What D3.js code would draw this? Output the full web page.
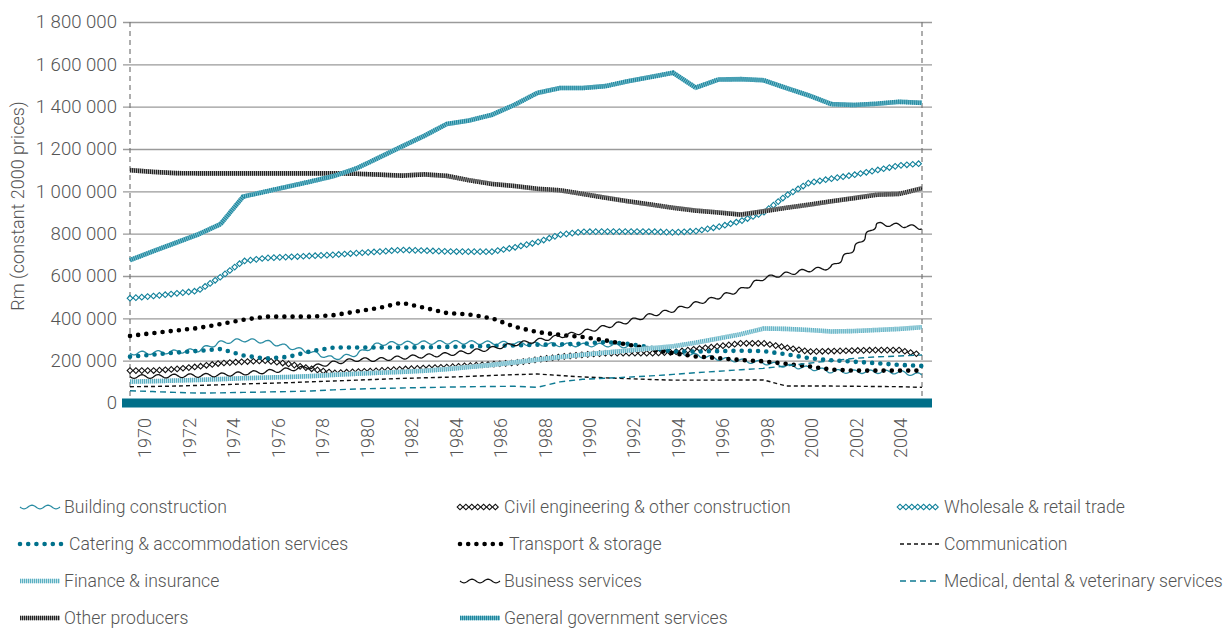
<!DOCTYPE html>
<html>
<head>
<meta charset="utf-8">
<script src="https://cdn.jsdelivr.net/npm/d3@7"></script>
<style>
  body { margin: 0; background: #fff; }
  text { font-family: Roboto, "Noto Sans", sans-serif; font-weight: 300; fill: #555; }
</style>
</head>
<body>
<div id="chart"></div>
<script>
// years on the x axis (values in thousands of Rm, constant 2000 prices)
var years = [1970, 1971, 1972, 1973, 1974, 1975, 1976, 1977, 1978, 1979,
  1980, 1981, 1982, 1983, 1984, 1985, 1986, 1987, 1988, 1989,
  1990, 1991, 1992, 1993, 1994, 1995, 1996, 1997, 1998, 1999,
  2000, 2001, 2002, 2003, 2004, 2005];
var tickYears = [1970, 1972, 1974, 1976, 1978, 1980, 1982, 1984, 1986, 1988,
  1990, 1992, 1994, 1996, 1998, 2000, 2002, 2004];
var yTicks = [0, 200, 400, 600, 800, 1000, 1200, 1400, 1600, 1800];

var building = [235, 238, 242, 250, 285, 298, 290, 265, 240, 210, 230, 280, 283, 285, 287, 286, 284, 282, 278, 275,
  274, 274, 268, 258, 240, 225, 210, 200, 190, 176, 165, 150, 148, 148, 145, 132];
var civil = [153, 153, 160, 172, 188, 195, 200, 185, 162, 142, 148, 153, 160, 165, 170, 177, 183, 190, 205, 218,
  228, 235, 235, 235, 240, 255, 268, 282, 282, 262, 243, 245, 248, 250, 250, 227];
var wholesale = [495, 505, 517, 530, 595, 670, 685, 690, 695, 700, 708, 715, 723, 720, 716, 715, 715, 735, 760, 795,
  809, 810, 810, 810, 806, 812, 832, 860, 900, 980, 1040, 1060, 1078, 1100, 1122, 1132];
var catering = [219, 228, 238, 246, 255, 225, 210, 218, 245, 262, 262, 262, 262, 263, 265, 267, 270, 272, 275, 277,
  280, 288, 280, 262, 243, 243, 245, 247, 245, 230, 212, 202, 195, 188, 180, 175];
var transport = [317, 330, 342, 354, 373, 393, 408, 408, 408, 415, 432, 449, 474, 450, 425, 418, 400, 360, 335, 322,
  312, 296, 276, 255, 235, 220, 212, 203, 197, 185, 173, 158, 153, 153, 153, 153];
var communication = [77, 78, 80, 83, 86, 90, 93, 96, 100, 104, 108, 112, 116, 119, 122, 126, 130, 134, 137, 130,
  123, 119, 115, 111, 108, 108, 108, 109, 109, 80, 80, 80, 79, 78, 77, 74];
var finance = [101, 103, 106, 109, 113, 117, 120, 123, 127, 133, 138, 143, 147, 152, 160, 170, 180, 192, 205, 217,
  228, 238, 248, 258, 268, 285, 305, 325, 352, 350, 345, 338, 340, 345, 350, 358];
var business = [125, 125, 128, 130, 133, 140, 148, 158, 170, 190, 205, 205, 215, 222, 230, 242, 258, 278, 295, 315,
  335, 360, 385, 415, 438, 470, 500, 535, 590, 610, 628, 640, 730, 845, 840, 828];
var medical = [58, 54, 50, 47, 48, 50, 52, 54, 57, 62, 66, 69, 71, 73, 75, 77, 78, 79, 74, 100,
  112, 117, 122, 128, 135, 143, 150, 157, 164, 175, 188, 200, 211, 218, 222, 227];
var otherProducers = [1100, 1092, 1086, 1085, 1085, 1085, 1085, 1085, 1085, 1085, 1083, 1079, 1074, 1080, 1073, 1052, 1035, 1025, 1012, 1005,
  988, 970, 953, 938, 922, 909, 900, 890, 906, 922, 937, 953, 968, 984, 988, 1014];
var government = [675, 716, 756, 796, 845, 975, 999, 1023, 1047, 1072, 1108, 1159, 1211, 1262, 1318, 1335, 1362, 1409, 1465, 1488,
  1488, 1497, 1520, 1540, 1560, 1490, 1528, 1530, 1525, 1488, 1453, 1412, 1408, 1414, 1423, 1418];

var series = [
  { name: "Building construction", values: building, style: "wave", color: "#2a8ca3" },
  { name: "Civil engineering & other construction", values: civil, style: "diamond", color: "#111" },
  { name: "Wholesale & retail trade", values: wholesale, style: "diamond", color: "#10809a" },
  { name: "Catering & accommodation services", values: catering, style: "dots", color: "#00718c" },
  { name: "Transport & storage", values: transport, style: "dots", color: "#000" },
  { name: "Communication", values: communication, style: "dash", color: "#111" },
  { name: "Finance & insurance", values: finance, style: "hatch", color: "#5aafc2", base: "#cfe8ee" },
  { name: "Business services", values: business, style: "wave", color: "#111" },
  { name: "Medical, dental & veterinary services", values: medical, style: "dash", color: "#0e7a93" },
  { name: "Other producers", values: otherProducers, style: "hatch", color: "#222", base: "#b0b0b0" },
  { name: "General government services", values: government, style: "hatch", color: "#1d859d", base: "#7cc0cf" }
];

var svgWidth = 1227;
var svgHeight = 630;

var svg = d3.select("#chart")
  .append("svg")
  .attr("width", svgWidth)
  .attr("height", svgHeight);

// scales
var x = d3.scaleLinear().domain([1970, 2005]).range([130, 922]);
var xLab = d3.scaleLinear().domain([1970, 2004]).range([145, 901]);
var y = d3.scaleLinear().domain([0, 1800]).range([403, 22]);

var fmt = function(d) { return d3.format(",")(d * 1000).replace(/,/g, " "); };

// y axis with gridlines
var yAxis = svg.append("g")
  .attr("transform", "translate(130,0)")
  .call(d3.axisLeft(y).tickValues(yTicks).tickFormat(fmt).tickSize(-802).tickSizeOuter(0).tickPadding(13));
yAxis.select(".domain").remove();
yAxis.selectAll(".tick line")
  .attr("x1", -7)
  .attr("stroke", "#9a9a9a")
  .attr("stroke-width", 1.3);
yAxis.selectAll(".tick text")
  .style("font-size", "18.6px")
  .style("font-family", "Roboto, sans-serif")
  .style("font-weight", 300)
  .attr("fill", "#555");

// dashed verticals at both ends
svg.selectAll(".edge")
  .data([1970, 2005])
  .enter()
  .append("line")
  .attr("x1", d => x(d))
  .attr("x2", d => x(d))
  .attr("y1", y(1800))
  .attr("y2", y(0))
  .attr("stroke", "#777")
  .attr("stroke-width", 1.2)
  .attr("stroke-dasharray", "5 4");

// y axis title
svg.append("text")
  .attr("transform", "translate(24,206) rotate(-90)")
  .attr("text-anchor", "middle")
  .style("font-size", "18px")
  .text("Rm (constant 2000 prices)");

var chartGroup = svg.append("g");

// line styles
function wavePath(node, amp, period) {
  var L = node.getTotalLength();
  var pts = [];
  for (var s = 0; s <= L; s += 1) {
    var p = node.getPointAtLength(s);
    var a = node.getPointAtLength(Math.max(0, s - 1.5));
    var b = node.getPointAtLength(Math.min(L, s + 1.5));
    var dx = b.x - a.x, dy = b.y - a.y;
    var len = Math.sqrt(dx * dx + dy * dy) || 1;
    var off = amp * Math.sin(2 * Math.PI * s / period);
    pts.push([p.x - dy / len * off, p.y + dx / len * off]);
  }
  return d3.line()(pts);
}

function drawStyled(g, d, s) {
  if (s.style === "wave") {
    var tmp = g.append("path").attr("d", d).attr("fill", "none");
    var wd = wavePath(tmp.node(), 1.8, 16);
    tmp.remove();
    g.append("path").attr("d", wd).attr("fill", "none")
      .attr("stroke", s.color).attr("stroke-width", 1.3);
  }
  else if (s.style === "diamond") {
    var tmp2 = g.append("path").attr("d", d).attr("fill", "none");
    var node = tmp2.node();
    var L = node.getTotalLength();
    tmp2.remove();
    var sym = d3.symbol().type(d3.symbolSquare).size(16)();
    for (var t = 0; t <= L; t += 5.9) {
      var p = node.getPointAtLength(t);
      g.append("path")
        .attr("d", sym)
        .attr("transform", "translate(" + p.x + "," + p.y + ") rotate(45)")
        .attr("fill", "#fff")
        .attr("stroke", s.color)
        .attr("stroke-width", 1.1);
    }
  }
  else if (s.style === "dots") {
    g.append("path").attr("d", d).attr("fill", "none")
      .attr("stroke", s.color).attr("stroke-width", 4.6)
      .attr("stroke-linecap", "round")
      .attr("stroke-dasharray", "0 8.2");
  }
  else if (s.style === "dash") {
    g.append("path").attr("d", d).attr("fill", "none")
      .attr("stroke", s.color).attr("stroke-width", 1.4)
      .attr("stroke-dasharray", s.color === "#111" ? "4 3" : "6 4");
  }
  else if (s.style === "hatch") {
    g.append("path").attr("d", d).attr("fill", "none")
      .attr("stroke", s.base).attr("stroke-width", 4.6);
    g.append("path").attr("d", d).attr("fill", "none")
      .attr("stroke", s.color).attr("stroke-width", 4.6)
      .attr("stroke-dasharray", "1.1 0.9");
  }
}

var line = d3.line()
  .x((d, i) => x(years[i]))
  .y(d => y(d));

series.forEach(function(s) {
  drawStyled(chartGroup.append("g"), line(s.values), s);
});

// zero baseline bar
svg.append("rect")
  .attr("x", 122)
  .attr("y", y(0) - 4.5)
  .attr("width", 810)
  .attr("height", 9)
  .attr("fill", "#006f89");

// year labels
svg.append("g")
  .selectAll("text")
  .data(tickYears)
  .enter()
  .append("text")
  .attr("transform", d => "translate(" + xLab(d) + ",418) rotate(-90)")
  .attr("text-anchor", "end")
  .attr("dy", "0.35em")
  .style("font-size", "18px")
  .text(d => d);

// legend
var legend = svg.append("g");
var colX = [20, 460, 900];
var rowY = [507, 544, 581, 618];
series.forEach(function(s, i) {
  var cx = colX[i % 3];
  var cy = rowY[Math.floor(i / 3)];
  var g = legend.append("g");
  var w = s.style === "dots" ? 42 : 40;
  drawStyled(g, d3.line()([[cx, cy], [cx + w, cy]]), s);
  g.append("text")
    .attr("x", cx + w + (s.style === "dots" ? 7 : 4))
    .attr("y", cy)
    .attr("dy", "0.35em")
    .style("font-size", "17.6px")
    .text(s.name);
});
</script>
</body>
</html>
